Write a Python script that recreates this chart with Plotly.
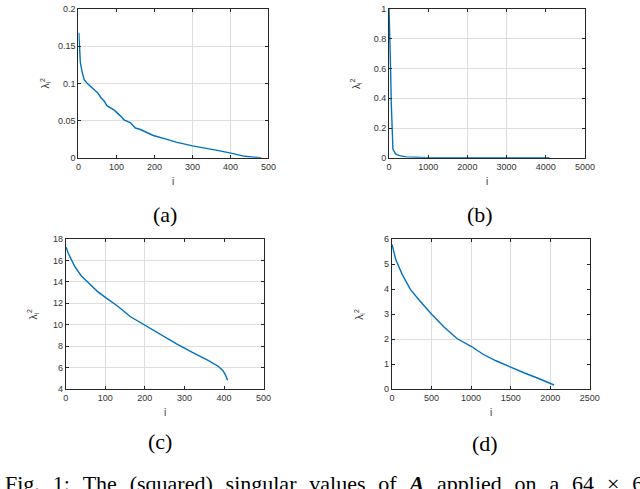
import plotly.graph_objects as go

# ---------------- data ----------------
a_i = [1, 3, 5, 9, 15, 25, 34, 51, 59, 68, 75, 94, 111, 120, 137, 150, 163, 197, 231, 257, 300, 335, 369, 404, 438, 472, 481]
a_v = [0.168, 0.138, 0.128, 0.117, 0.105, 0.099, 0.095, 0.087, 0.081, 0.076, 0.070, 0.064, 0.056, 0.051, 0.047,
       0.040, 0.038, 0.030, 0.025, 0.021, 0.016, 0.013, 0.0097, 0.006, 0.002, 0.0004, 0.0]

b_i = [1, 25, 42, 58, 75, 100, 167, 267, 433, 683, 1000, 2000, 3000, 4096]
b_v = [1.0, 0.80, 0.58, 0.365, 0.20, 0.059, 0.026, 0.015, 0.0066, 0.002, 0.001, 0.0005, 0.0003, 0.0001]

c_i = [1, 6, 22, 39, 60, 80, 101, 130, 163, 200, 237, 279, 320, 361, 386, 398, 405, 409]
c_v = [17.25, 16.72, 15.5, 14.58, 13.82, 13.12, 12.54, 11.78, 10.77, 9.95, 9.09, 8.24, 7.42, 6.65, 6.1, 5.68, 5.2, 4.82]

d_i = [1, 49, 131, 233, 335, 498, 661, 825, 1000, 1151, 1314, 1498, 1682, 1845, 2048]
d_v = [5.79, 5.17, 4.58, 3.99, 3.59, 3.00, 2.47, 2.01, 1.71, 1.39, 1.13, 0.87, 0.63, 0.43, 0.16]

a_xticks = [0, 100, 200, 300, 400, 500]
a_yticks = [0, 0.05, 0.1, 0.15, 0.2]
b_xticks = [0, 1000, 2000, 3000, 4000, 5000]
b_yticks = [0, 0.2, 0.4, 0.6, 0.8, 1]
c_xticks = [0, 100, 200, 300, 400, 500]
c_yticks = [4, 6, 8, 10, 12, 14, 16, 18]
d_xticks = [0, 500, 1000, 1500, 2000, 2500]
d_yticks = [0, 1, 2, 3, 4, 5, 6]

sub_labels = ["(a)", "(b)", "(c)", "(d)"]
caption_words = ["Fig.", "1:", "The", "(squared)", "singular", "values", "of", "<b><i>A</i></b>",
                 "applied", "on", "a", "64", "×", "64"]

# ---------------- layout config ----------------
W, H = 640, 489
BLUE = "#0072BD"
AX = "#262626"
GRID = "#dedede"
SANS = "Liberation Sans, Arial, sans-serif"
TICKFONT = dict(family=SANS, size=9, color="#333333")
SERIF = "Liberation Serif, Times New Roman, serif"
WORD_GAP = " \u00a0\u200a"   # justified-looking wide word spacing

panels = [
    dict(x=a_i, y=a_v, xt=a_xticks, yt=a_yticks, xr=[0, 500], yr=[0, 0.2],
         box=(77, 271, 4, 156), gx=[300, 400], gy=[0.05, 0.1, 0.15], lab=(165, 214)),
    dict(x=b_i, y=b_v, xt=b_xticks, yt=b_yticks, xr=[0, 5000], yr=[0, 1],
         box=(394, 594, 4, 156), gx=[2000, 3000], gy=[0.2, 0.4, 0.6, 0.8], lab=(487, 214)),
    dict(x=c_i, y=c_v, xt=c_xticks, yt=c_yticks, xr=[0, 500], yr=[4, 18],
         box=(64, 266, 239, 392), gx=[100, 200], gy=[6, 8, 10, 12, 14, 16], lab=(160, 446)),
    dict(x=d_i, y=d_v, xt=d_xticks, yt=d_yticks, xr=[0, 2500], yr=[0, 6],
         box=(397, 599, 239, 392), gx=[500, 1000, 1500, 2000], gy=[2], lab=(492, 448)),
]

fig = go.Figure()
annotations = []
for k, p in enumerate(panels):
    n = "" if k == 0 else str(k + 1)
    x0, x1, yt, yb = p["box"]
    fig.add_trace(go.Scatter(x=p["x"], y=p["y"], mode="lines",
                             line=dict(color=BLUE, width=1.4),
                             xaxis="x" + n, yaxis="y" + n, showlegend=False,
                             hoverinfo="skip"))
    common = dict(showline=True, linecolor=AX, linewidth=1, mirror="ticks",
                  ticks="inside", ticklen=3, tickwidth=1, tickcolor=AX,
                  tickfont=TICKFONT, showgrid=False, zeroline=False, fixedrange=True)
    fig.layout["xaxis" + n] = dict(
        domain=[x0 / W, x1 / W], anchor="y" + n, range=p["xr"],
        tickvals=p["xt"], ticktext=["%g" % v for v in p["xt"]],
        minor=dict(tickvals=p["gx"], showgrid=True, gridcolor=GRID, gridwidth=1, ticks=""),
        **common)
    fig.layout["yaxis" + n] = dict(
        domain=[1 - yb / H, 1 - yt / H], anchor="x" + n, range=p["yr"],
        tickvals=p["yt"], ticktext=["%g" % v for v in p["yt"]],
        minor=dict(tickvals=p["gy"], showgrid=True, gridcolor=GRID, gridwidth=1, ticks=""),
        **common)
    annotations.append(dict(text="i", x=(x0 + x1) / 2 / W, y=1 - (yb + 24) / H,
                            xref="paper", yref="paper", showarrow=False,
                            xanchor="center", yanchor="middle",
                            font=dict(family=SANS, size=10, color="#333333")))
    annotations.append(dict(text="λ<sub>i</sub><sup>2</sup>", x=(x0 - 34) / W, y=1 - (yt + yb) / 2 / H,
                            xref="paper", yref="paper", showarrow=False, textangle=-90,
                            xanchor="center", yanchor="middle",
                            font=dict(family=SANS, size=10, color="#333333")))
    lx, ly = p["lab"]
    annotations.append(dict(text=sub_labels[k], x=lx / W, y=1 - ly / H,
                            xref="paper", yref="paper", showarrow=False,
                            xanchor="center", yanchor="middle",
                            font=dict(family=SERIF, size=22, color="black")))

annotations.append(dict(text=WORD_GAP.join(caption_words), x=0, y=1 - 488 / H,
                        xref="paper", yref="paper",
                        showarrow=False, xanchor="left", yanchor="middle",
                        font=dict(family=SERIF, size=22, color="black")))

fig.update_layout(width=W, height=H, autosize=False,
                  margin=dict(l=0, r=0, t=0, b=0),
                  paper_bgcolor="white", plot_bgcolor="white",
                  annotations=annotations)

fig.write_html("out.html", config={"displayModeBar": False},
               post_script="document.body.style.margin='0';document.body.style.overflow='hidden';")
